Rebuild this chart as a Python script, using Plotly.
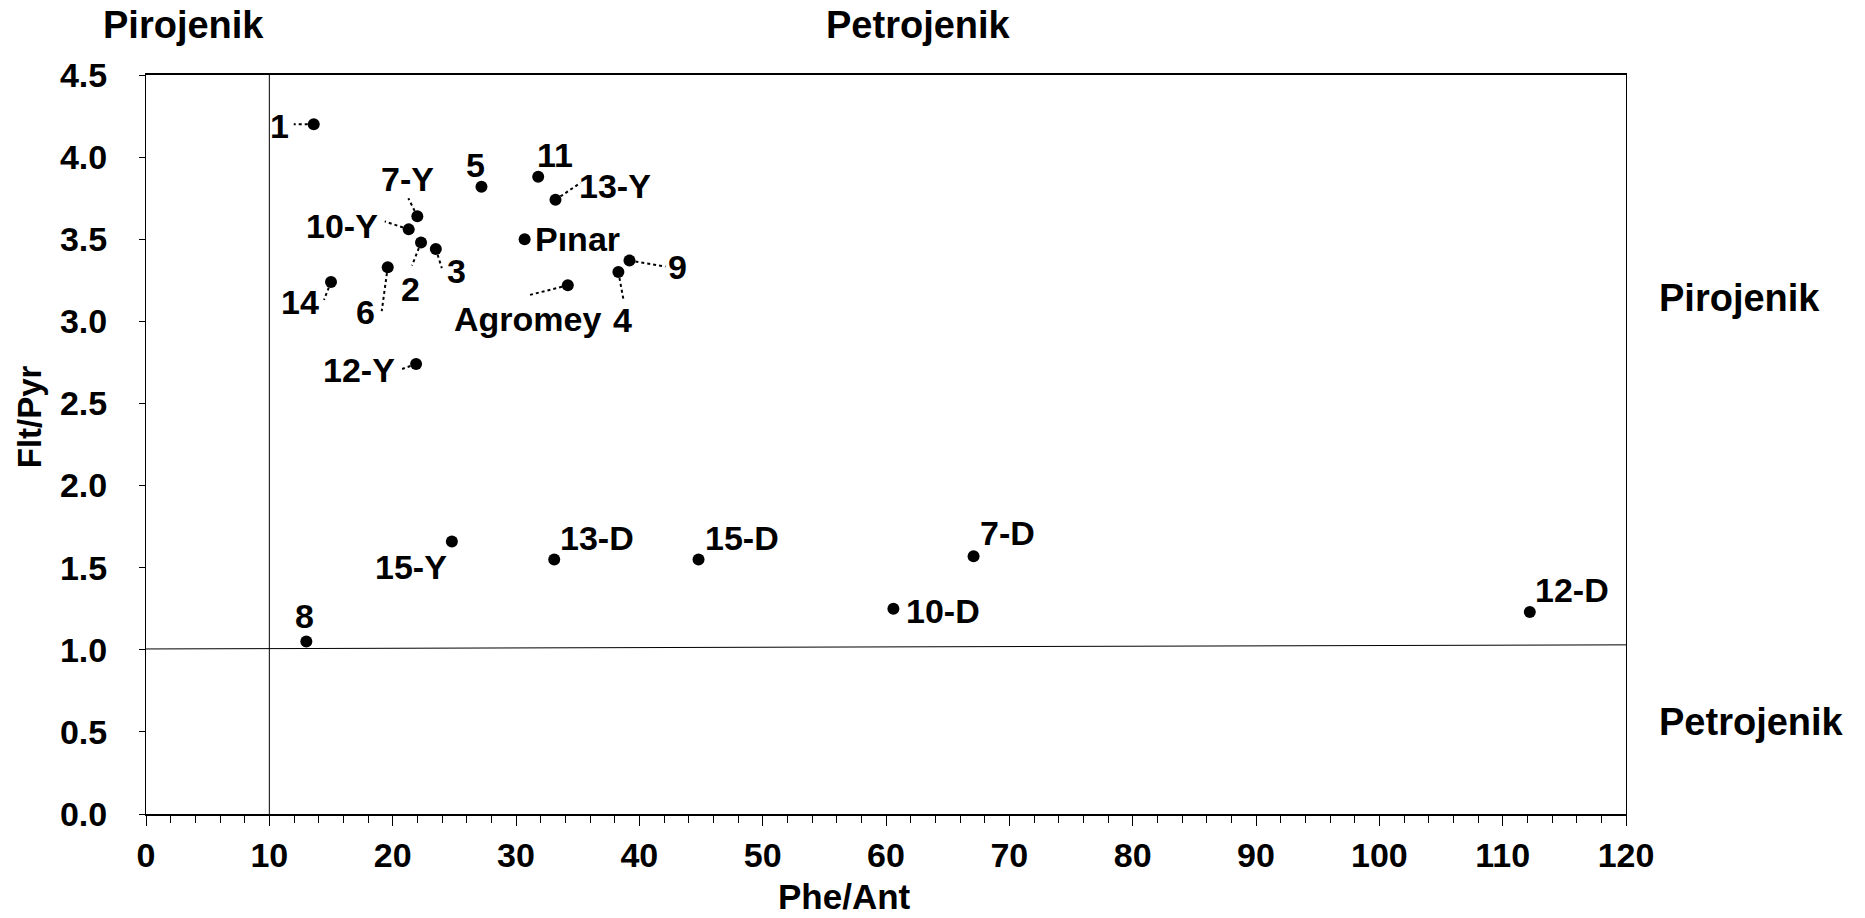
import plotly.graph_objects as go

# ---------------- data ----------------
samples = ["1", "2", "3", "4", "5", "6", "7-Y", "8", "9", "10-Y", "11", "12-Y",
           "13-Y", "14", "15-Y", "Pınar", "Agromey", "7-D", "10-D", "12-D",
           "13-D", "15-D"]
phe_ant = [13.6, 22.3, 23.5, 38.3, 27.2, 19.6, 22.0, 13.0, 39.2, 21.3, 31.8, 21.9,
           33.2, 15.0, 24.8, 30.7, 34.2, 67.1, 60.6, 112.2, 33.1, 44.8]
flt_pyr = [4.20, 3.48, 3.44, 3.30, 3.82, 3.33, 3.64, 1.05, 3.37, 3.56, 3.88, 2.74,
           3.74, 3.24, 1.66, 3.50, 3.22, 1.57, 1.25, 1.23, 1.55, 1.55]

x_ticks = list(range(0, 121, 10))
y_ticks = [0.0, 0.5, 1.0, 1.5, 2.0, 2.5, 3.0, 3.5, 4.0, 4.5]

# source thresholds
PHE_ANT_LIMIT = 10
FLT_PYR_LIMIT_START = 1.005
FLT_PYR_LIMIT_END = 1.03

# ---------------- label placement (pixels: label dx, dy, leader end dx, dy; +dy = down) ----------------
label_place = {
    "1": (-34, 2, -20, 0),
    "2": (-11, 46, -9, 23),
    "3": (21, 22, 6, 19),
    "4": (4, 48, 5, 27),
    "5": (-6, -22, None, None),
    "6": (-22, 45, -6, 44),
    "7-Y": (-10, -37, -9, -18),
    "8": (-2, -26, None, None),
    "9": (48, 6, 36, 6),
    "10-Y": (-67, -3, -24, -8),
    "11": (17, -22, None, None),
    "12-Y": (-57, 6, -14, 5),
    "13-Y": (60, -14, 25, -17),
    "14": (-31, 20, -7, 18),
    "15-Y": (-41, 26, None, None),
    "Pınar": (53, 0, None, None),
    "Agromey": (-40, 34, -39, 10),
    "7-D": (34, -23, None, None),
    "10-D": (50, 2, None, None),
    "12-D": (42, -22, None, None),
    "13-D": (43, -21, None, None),
    "15-D": (43, -21, None, None),
}

FONT = "Liberation Sans, Arial, sans-serif"

fig = go.Figure()
fig.add_trace(go.Scatter(
    x=phe_ant, y=flt_pyr, mode="markers",
    marker=dict(color="black", size=12),
    hoverinfo="skip", showlegend=False,
))

shapes = []
annotations = []
for name, xv, yv in zip(samples, phe_ant, flt_pyr):
    dx, dy, lx, ly = label_place[name]
    annotations.append(dict(
        x=xv, y=yv, xref="x", yref="y", text=name, showarrow=False,
        xshift=dx, yshift=-dy, xanchor="center", yanchor="middle",
        font=dict(family=FONT, size=34, color="black", weight="bold"),
    ))
    if lx is not None:
        shapes.append(dict(
            type="line", xref="x", yref="y", xsizemode="pixel", ysizemode="pixel",
            xanchor=xv, yanchor=yv, x0=0, y0=0, x1=lx, y1=-ly,
            line=dict(color="black", width=2, dash="dot"), layer="below",
        ))

# threshold lines
shapes.append(dict(type="line", xref="x", yref="y", x0=PHE_ANT_LIMIT, x1=PHE_ANT_LIMIT,
                   y0=y_ticks[0], y1=y_ticks[-1], line=dict(color="black", width=1), layer="below"))
shapes.append(dict(type="line", xref="x", yref="y", x0=x_ticks[0], x1=x_ticks[-1],
                   y0=FLT_PYR_LIMIT_START, y1=FLT_PYR_LIMIT_END,
                   line=dict(color="black", width=1), layer="below"))

corner_font = dict(family=FONT, size=38, color="black", weight="bold")
annotations += [
    dict(x=0.025, y=1.067, xref="paper", yref="paper", text="Pirojenik", showarrow=False,
         xanchor="center", yanchor="middle", font=corner_font),
    dict(x=0.522, y=1.067, xref="paper", yref="paper", text="Petrojenik", showarrow=False,
         xanchor="center", yanchor="middle", font=corner_font),
    dict(x=1.021, y=0.698, xref="paper", yref="paper", text="Pirojenik", showarrow=False,
         xanchor="left", yanchor="middle", font=corner_font),
    dict(x=1.021, y=0.125, xref="paper", yref="paper", text="Petrojenik", showarrow=False,
         xanchor="left", yanchor="middle", font=corner_font),
    dict(x=0.472, y=-0.112, xref="paper", yref="paper", text="Phe/Ant", showarrow=False,
         xanchor="center", yanchor="middle",
         font=dict(family=FONT, size=35, color="black", weight="bold")),
    dict(x=-0.079, y=0.537, xref="paper", yref="paper", text="Flt/Pyr", showarrow=False,
         xanchor="center", yanchor="middle", textangle=-90,
         font=dict(family=FONT, size=33, color="black", weight="bold")),
]

fig.update_layout(
    width=1865, height=918,
    margin=dict(l=146, r=239, t=75, b=104),
    paper_bgcolor="white", plot_bgcolor="white",
    shapes=shapes, annotations=annotations,
    showlegend=False,
)
fig.update_xaxes(
    range=[x_ticks[0], x_ticks[-1]], tickvals=x_ticks, ticktext=[str(v) for v in x_ticks],
    showgrid=False, zeroline=False, showline=True, linecolor="black", linewidth=1.5,
    mirror=True, ticks="outside", ticklen=10, tickcolor="black", tickwidth=1,
    tickfont=dict(family=FONT, size=34, color="black", weight="bold"),
    ticklabelstandoff=0,
    minor=dict(dtick=2, ticks="outside", ticklen=7, tickcolor="black", tickwidth=1, showgrid=False),
)
fig.update_yaxes(
    range=[y_ticks[0], y_ticks[-1]], tickvals=y_ticks, ticktext=[f"{v:.1f}" for v in y_ticks],
    showgrid=False, zeroline=False, showline=True, linecolor="black", linewidth=1,
    mirror=True, ticks="outside", ticklen=6, tickcolor="black", tickwidth=1,
    tickfont=dict(family=FONT, size=34, color="black", weight="bold"),
    ticklabelstandoff=25,
)

fig.write_html("out.html")
